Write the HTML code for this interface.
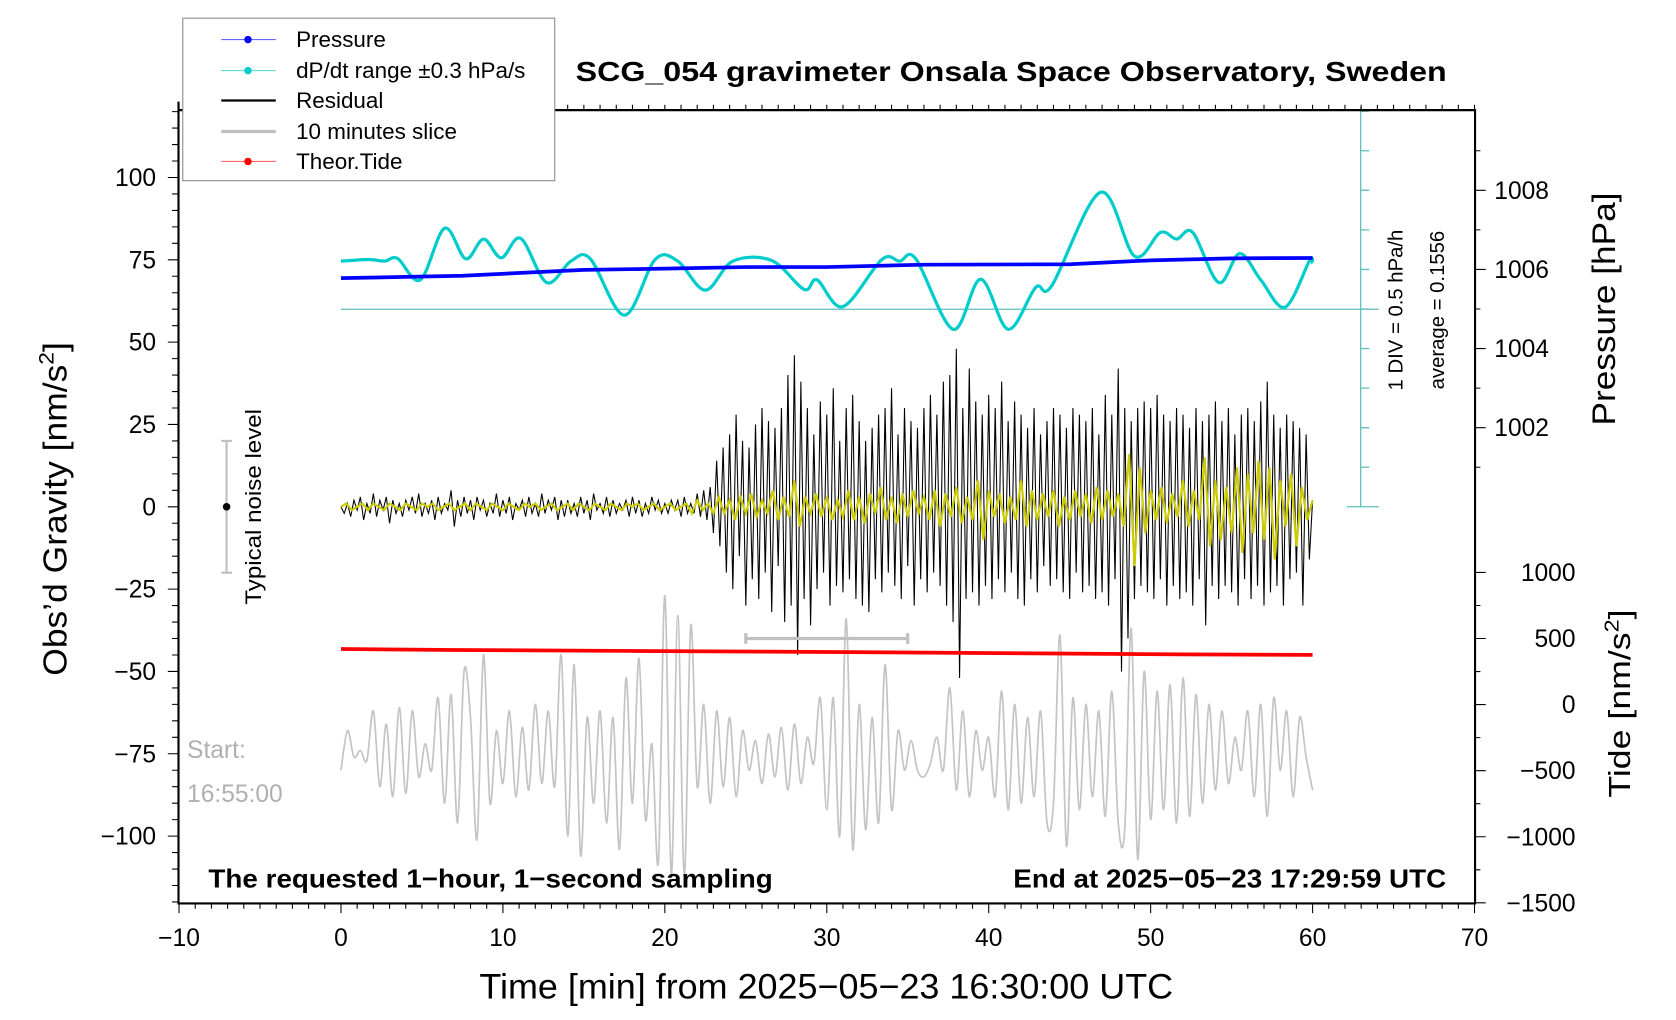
<!DOCTYPE html>
<html><head><meta charset="utf-8"><style>
html,body{margin:0;padding:0;background:#fff;}
svg{display:block;font-family:"Liberation Sans",sans-serif;}
</style></head><body>
<svg id="chart" width="1676" height="1020" viewBox="0 0 1568 954" preserveAspectRatio="none" xmlns="http://www.w3.org/2000/svg">
<rect x="0" y="0" width="1568" height="954" fill="#fff"/>
<g id="marks"></g>
<g id="axes"></g>
<text x="946" y="76" text-anchor="middle" font-weight="bold" font-size="26" textLength="815" lengthAdjust="spacingAndGlyphs">SCG_054 gravimeter Onsala Space Observatory, Sweden</text>
<text x="773" y="934" text-anchor="middle" font-size="33" textLength="649" lengthAdjust="spacingAndGlyphs">Time [min] from 2025−05−23 16:30:00 UTC</text>
<text transform="translate(62,476) rotate(-90)" text-anchor="middle" font-size="31" textLength="312" lengthAdjust="spacingAndGlyphs">Obs’d Gravity [nm/s<tspan font-size="20" dy="-12">2</tspan><tspan dy="12">]</tspan></text>
<text transform="translate(1511,289) rotate(-90)" text-anchor="middle" font-size="30" textLength="218" lengthAdjust="spacingAndGlyphs">Pressure [hPa]</text>
<text transform="translate(1525,658) rotate(-90)" text-anchor="middle" font-size="29" textLength="176" lengthAdjust="spacingAndGlyphs">Tide [nm/s<tspan font-size="19" dy="-11">2</tspan><tspan dy="11">]</tspan></text>
<text x="195" y="830" font-weight="bold" font-size="24" textLength="528" lengthAdjust="spacingAndGlyphs">The requested 1−hour, 1−second sampling</text>
<text x="1353" y="830" text-anchor="end" font-weight="bold" font-size="24" textLength="405" lengthAdjust="spacingAndGlyphs">End at 2025−05−23 17:29:59 UTC</text>
<text x="175" y="709" font-size="23" fill="#b0b0b0">Start:</text>
<text x="175" y="750" font-size="23" fill="#b0b0b0">16:55:00</text>
<text transform="translate(244,474) rotate(-90)" text-anchor="middle" font-size="21" textLength="183" lengthAdjust="spacingAndGlyphs">Typical noise level</text>
<text transform="translate(1312,290) rotate(-90)" text-anchor="middle" font-size="19">1 DIV = 0.5 hPa/h</text>
<text transform="translate(1351,290) rotate(-90)" text-anchor="middle" font-size="19">average = 0.1556</text>
<g>
<rect x="171" y="17" width="348" height="152" fill="#fff" stroke="#888" stroke-width="1"/>
<g><line x1="207" y1="37" x2="258" y2="37" stroke="#6666ff" stroke-width="1"/><circle cx="232" cy="37" r="3.5" fill="#0000ff"/><text x="277" y="44" font-size="21">Pressure</text></g>
<g><line x1="207" y1="66" x2="258" y2="66" stroke="#5fd8d8" stroke-width="1"/><circle cx="232" cy="66" r="3.5" fill="#00cccc"/><text x="277" y="73" font-size="21">dP/dt range ±0.3 hPa/s</text></g>
<g><line x1="207" y1="94" x2="258" y2="94" stroke="#000" stroke-width="2"/><text x="277" y="101" font-size="21">Residual</text></g>
<g><line x1="207" y1="123" x2="258" y2="123" stroke="#c0c0c0" stroke-width="3"/><text x="277" y="130" font-size="21">10 minutes slice</text></g>
<g><line x1="207" y1="151" x2="258" y2="151" stroke="#ff6666" stroke-width="1"/><circle cx="232" cy="151" r="3.5" fill="#ff0000"/><text x="277" y="158" font-size="21">Theor.Tide</text></g>
</g>
</svg>
<script>
// ---- data ----
const dpTimes = [0,1.7,2.7,3.5,4.9,6.4,7.7,8.8,9.9,11.1,12.7,14.2,15.4,17.5,19.4,20.8,22.5,24.2,26.6,28.6,29.4,31.0,33.4,34.5,35.5,37.8,39.5,41.2,42.9,43.9,46.9,49.0,50.6,51.6,52.6,54.2,55.5,56.8,58.3,59.8,60];
const dpValues = [74.6,75.1,74.6,75.4,68.9,84.6,75.3,81.3,75.6,81.5,68.1,74.6,75.3,58.2,75.1,74.6,65.8,74.6,74.8,66.0,68.9,60.8,75.1,74.6,75.3,53.9,69.1,53.9,66.6,67.2,95.5,76.1,83.3,81.3,83.3,68.1,76.9,68.9,60.6,74.6,74.0];
const pressTimes = [0,7.5,15,20,25,30,36,45,50,55,60];
const pressValues = [1005.78,1005.84,1005.99,1006.02,1006.06,1006.06,1006.12,1006.13,1006.23,1006.28,1006.29];
const tideTimes = [0,7,18,27.5,36,44,52,60];
const tideValues = [421,413,406,400,393,387,380,376];
const residualStep = 0.2;
const residualValues = [0,-2,1,-3,2,-1,3,-4,1,-2, 4,-3,2,-1,3,-5,2,-2,1,-3, 2,-1,3,-2,4,-3,1,-2,2,-4, 3,-2,1,-1,5,-6,2,-3,3,-2, 2,-4,3,-1,2,-3,1,-2,4,-3, 2,-2,3,-4,1,-1,2,-3,3,-2, 1,-3,4,-2,2,-1,3,-4,2,-3, 2,-2,1,-3,3,-2,2,-4,4,-1, 1,-2,3,-3,2,-2,1,-1,2,-3, 3,-2,2,-3,1,-2,3,-1,2,-2, 1,-2,2,-1,2,-3,3,-2,1,-2, 4,-3,5,-4,6,-8,14,-12,18,-20, 22,-25,28,-15,20,-30,18,-22,25,-28, 30,-20,26,-32,24,-18,30,-35,40,-30, 46,-45,38,-28,30,-36,22,-25,32,-20, 28,-30,36,-24,20,-26,30,-22,34,-28, 26,-30,20,-32,24,-22,28,-26,30,-20, 36,-24,22,-28,30,-18,26,-30,24,-22, 30,-26,34,-20,28,-24,38,-30,40,-35, 48,-52,30,-28,42,-26,32,-30,28,-24, 34,-28,30,-22,38,-26,26,-20,32,-28, 28,-30,24,-22,30,-26,22,-18,26,-24, 30,-22,28,-26,24,-28,30,-20,28,-26, 26,-24,30,-28,22,-26,34,-30,28,-22, 42,-50,30,-40,26,-28,30,-24,32,-26, 30,-28,34,-22,28,-30,26,-24,30,-28, 28,-26,24,-30,30,-22,26,-36,28,-24, 32,-28,26,-24,30,-26,22,-30,28,-22, 30,-28,26,-24,32,-30,38,-26,28,-24, 24,-30,28,-22,26,-20,24,-30,22,-16,2];
const smoothStep = 1/3;
const smoothValues = [0,1,-1,0,1,-1,1,0,-1,1, 0,-1,1,0,-1,1,0,1,-1,0, 1,-1,0,1,-1,1,0,-1,1,0, -1,1,0,-1,1,0,1,-1,0,1, -1,0,1,-1,1,0,-1,1,0,-1, 1,0,-1,1,0,1,-1,0,1,-1, 0,1,-1,0,1,-2,2,-1,1,-2, 3,-2,2,-4,3,-2,4,-3,2,-2, 5,-4,3,-3,8,-6,3,-2,4,-3, 3,-4,2,-3,5,-4,3,-5,4,-2, 6,-4,3,-5,4,-3,5,-2,3,-4, 5,-6,4,-3,6,-5,3,-4,8,-10, 5,-3,4,-5,3,-4,8,-6,5,-4, 4,-3,5,-6,3,-4,5,-3,4,-5, 6,-4,5,-3,4,-6,16,-18,12,-8, 5,-4,6,-5,4,-3,8,-6,5,-4, 15,-12,8,-10,6,-8,12,-14,10,-8, 14,-10,12,-16,8,-6,10,-12,6,-4,2];
const sliceStep = 0.4;
const sliceValues = [-80,-68,-76,-74,-77,-62,-85,-66,-88,-61, -87,-62,-82,-72,-80,-58,-90,-57,-96,-50, -64,-101,-45,-90,-68,-84,-62,-88,-67,-86, -60,-84,-62,-85,-45,-100,-48,-106,-64,-90, -62,-96,-64,-104,-52,-90,-46,-95,-72,-108, -27,-112,-33,-112,-36,-85,-60,-90,-62,-85, -64,-88,-68,-80,-71,-84,-69,-82,-67,-86, -66,-84,-70,-78,-58,-92,-58,-100,-34,-104, -60,-98,-64,-96,-48,-92,-68,-80,-71,-80, -82,-78,-70,-80,-55,-86,-62,-88,-68,-80, -70,-88,-56,-92,-60,-90,-64,-88,-62,-96, -90,-39,-103,-58,-92,-60,-88,-62,-94,-56, -96,-98,-37,-107,-50,-95,-56,-92,-54,-96, -52,-94,-57,-90,-60,-86,-62,-84,-70,-80, -62,-88,-60,-94,-58,-80,-62,-88,-64,-76,-86];
const sliceRange = [25,35];
const noiseLevel = 20;
const xTicks = [-10,0,10,20,30,40,50,60,70];
const yTicks = [100,75,50,25,0,-25,-50,-75,-100];
const pressTicks = [1002,1004,1006,1008];
const tideTicks = [1000,500,0,-500,-1000,-1500];

// ---- axis functions ----
const X = t => 319 + t*15.15;
const YL = v => 474 - v*3.08;
const YP = p => 474 - (p-1000)*37;
const YT = T => 659 - T*0.1236;
const NS = 'http://www.w3.org/2000/svg';
const marks = document.getElementById('marks');
const axes = document.getElementById('axes');
function mk(tag, attrs, parent){ const e=document.createElementNS(NS,tag); for(const k in attrs) e.setAttribute(k,attrs[k]); (parent||marks).appendChild(e); return e; }
function poly(pts){ return pts.map((p,i)=>(i?'L':'M')+p[0].toFixed(2)+' '+p[1].toFixed(2)).join(''); }
function smooth(pts){ let d='M'+pts[0][0]+' '+pts[0][1]; for(let i=0;i<pts.length-1;i++){ const p0=pts[Math.max(0,i-1)],p1=pts[i],p2=pts[i+1],p3=pts[Math.min(pts.length-1,i+2)]; const c1=[p1[0]+(p2[0]-p0[0])/6,p1[1]+(p2[1]-p0[1])/6], c2=[p2[0]-(p3[0]-p1[0])/6,p2[1]-(p3[1]-p1[1])/6]; d+='C'+c1[0].toFixed(2)+' '+c1[1].toFixed(2)+' '+c2[0].toFixed(2)+' '+c2[1].toFixed(2)+' '+p2[0].toFixed(2)+' '+p2[1].toFixed(2);} return d; }

let e = mk('path',{d:smooth(sliceValues.map((v,i)=>[X(i*sliceStep),YL(v)])),fill:'none',stroke:'#c4c4c4','stroke-width':1.6});


e = mk('path',{d:poly(residualValues.map((v,i)=>[X(i*residualStep),YL(v)])),fill:'none',stroke:'#000','stroke-width':1});


e = mk('path',{d:poly(smoothValues.map((v,i)=>[X(i*smoothStep),YL(v)])),fill:'none',stroke:'#cccc00','stroke-width':2});


e = mk('path',{d:poly(tideTimes.map((t,i)=>[X(t),YT(tideValues[i])])),fill:'none',stroke:'#ff0000','stroke-width':3.5});


e = mk('line',{x1:X(0),x2:1290,y1:YL(60),y2:YL(60),stroke:'#5fbfbf','stroke-width':1.2});


e = mk('path',{d:smooth(dpTimes.map((t,i)=>[X(t),YL(dpValues[i])])),fill:'none',stroke:'#00cccc','stroke-width':3});


e = mk('path',{d:poly(pressTimes.map((t,i)=>[X(t),YP(pressValues[i])])),fill:'none',stroke:'#0000ff','stroke-width':3.5});


const sy = YL(-40);
e = mk('path',{d:`M${X(sliceRange[0])} ${sy}H${X(sliceRange[1])}M${X(sliceRange[0])} ${sy-5}V${sy+5}M${X(sliceRange[1])} ${sy-5}V${sy+5}`,stroke:'#c0c0c0','stroke-width':3,fill:'none'});


e = mk('path',{d:`M212 ${YL(noiseLevel)}V${YL(-noiseLevel)}M207 ${YL(noiseLevel)}H217M207 ${YL(-noiseLevel)}H217`,stroke:'#c0c0c0','stroke-width':2,fill:'none'});


e = mk('circle',{cx:212,cy:YL(0),r:3.5,fill:'#000'});


let d='M1273 100V474M1260 474H1290';
for(let k=1;k<=10;k++){ const y=474-k*37; if(y<103) break; d+=`M1273 ${y}H1281`; }
e = mk('path',{d:d,stroke:'#5fbfbf','stroke-width':1.2,fill:'none'});



e = mk('path',{d:'M167 95V845H1380V103H167',fill:'none',stroke:'#000','stroke-width':2},axes);


let td='';
for(let t=-10;t<=70;t++){ const x=X(t); const L=(t%10===0)?9:5; td+=`M${x} 845V${845+L}M${x} 103V${103-5}`; }
for(let v=-120;v<=120;v+=5){ const y=YL(v); if(y<95||y>845) continue; td+=`M167 ${y}H${167-((v%25===0)?10:6)}`; }
for(let p=1001;p<=1009;p++){ td+=`M1380 ${YP(p)}H${1380+((p%2===0)?10:5)}`; }
for(let T=-1500;T<=1000;T+=250){ td+=`M1380 ${YT(T)}H${1380+((T%500===0)?10:5)}`; }
e = mk('path',{d:td,stroke:'#000','stroke-width':1,fill:'none'},axes);


const fmt = v => (v<0?'\u2212':'')+Math.abs(v);
xTicks.forEach(t=>{ const el=mk('text',{x:X(t),y:885,'text-anchor':'middle','font-size':23},axes); el.textContent=fmt(t);

 });
yTicks.forEach(v=>{ const el=mk('text',{x:146,y:YL(v)+8,'text-anchor':'end','font-size':23},axes); el.textContent=fmt(v);

 });
pressTicks.forEach(p=>{ const el=mk('text',{x:1398,y:YP(p)+8,'font-size':23},axes); el.textContent=String(p);

 });
tideTicks.forEach(T=>{ const el=mk('text',{x:1474,y:YT(T)+8,'text-anchor':'end','font-size':23},axes); el.textContent=fmt(T);

 });
</script>
</body></html>
